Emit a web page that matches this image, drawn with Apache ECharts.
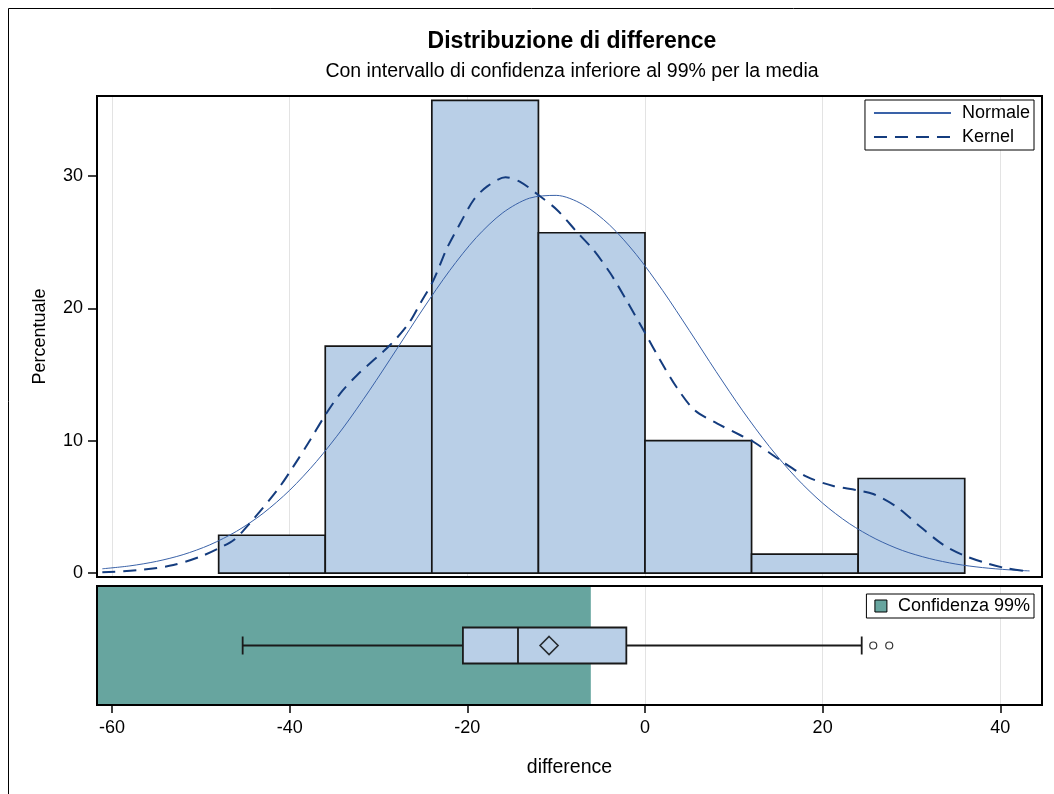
<!DOCTYPE html>
<html><head><meta charset="utf-8">
<script src="https://cdn.jsdelivr.net/npm/echarts@6/dist/echarts.min.js"></script>
<style>html,body{margin:0;padding:0;background:#fff}#c{width:1054px;height:794px}</style>
</head><body><div id="c"></div>
<script>
// ---------- data ----------
const binStarts = [-48, -36, -24, -12, 0, 12, 24];
const binEnds   = [-36, -24, -12, 0, 12, 24, 36];
const binPercent = [2.857, 17.143, 35.714, 25.714, 10.0, 1.429, 7.143];

const normalX = [-61.1,-58,-55,-52,-49,-46,-43,-40,-37,-34,-31,-28,-25,-22,-19,-16,-13,-10,-7,-4,-1,2,5,8,11,14,17,20,23,26,29,32,35,38,41,43.3];
const normalY = [0.32,0.54,0.88,1.39,2.13,3.15,4.51,6.26,8.42,10.96,13.82,16.87,19.95,22.85,25.35,27.23,28.33,28.54,27.85,26.31,24.08,21.34,18.32,15.23,12.26,9.56,7.22,5.28,3.74,2.57,1.70,1.10,0.68,0.41,0.24,0.16];

const kernelX = [-61.1,-56.8,-53.1,-50.1,-48.0,-46.3,-44.5,-41.4,-39.6,-37.7,-36.0,-34.3,-32.4,-28.7,-26.6,-25.3,-23.8,-22.3,-20.8,-19.3,-17.8,-15.7,-14.1,-12.0,-9.9,-7.7,-5.8,-3.9,-2.1,0,1.7,3.6,5.6,8.1,10.7,12.2,15.2,18.2,21.2,23.8,25.7,28.3,31.0,33.6,35.8,38.5,40.7,43.3];
const kernelY = [0.05,0.23,0.60,1.23,1.87,2.49,3.76,6.27,8.04,10.05,11.94,13.58,14.97,17.23,18.87,20.38,22.15,24.54,26.43,28.19,29.20,29.91,29.58,28.57,27.44,25.80,24.41,22.65,20.63,18.15,16.10,14.00,12.30,11.31,10.43,9.92,8.54,7.28,6.58,6.27,5.97,5.01,3.50,2.12,1.36,0.73,0.36,0.10];

// box plot: [lower whisker, Q1, median, Q3, upper whisker]
const boxValues = [-45.3, -20.5, -14.3, -2.1, 24.4];
const meanValue = [-10.8];
const outliers = [25.7, 27.5];
const confidenceUpper = [-6.1];

const xTicks = [-60, -40, -20, 0, 20, 40];
const yTicks = [0, 10, 20, 30];
const xRange = [-61.7, 44.7];
const yRange = [-0.3, 36.05];

// ---------- layout / style ----------
const FONT = '"Liberation Sans", Arial, sans-serif';
const L = 97, R = 1042, T1 = 96, B1 = 577, T2 = 586, B2 = 705;
const barFill = '#B9CFE7';
const teal = '#67A59F';

const chart = echarts.init(document.getElementById('c'), null, {renderer: 'canvas'});

const xAxisCommon = {
  type: 'value', min: xRange[0], max: xRange[1],
  axisLine: {show: false, onZero: false},
  splitLine: {show: true, lineStyle: {color: '#e3e3e3', width: 1}},
};

const option = {
  backgroundColor: '#fff',
  animation: false,
  textStyle: {fontFamily: FONT},
  grid: [
    {left: L, top: T1, width: R - L, height: B1 - T1, show: false},
    {left: L, top: T2, width: R - L, height: B2 - T2, show: false}
  ],
  xAxis: [
    Object.assign({}, xAxisCommon, {
      gridIndex: 0,
      axisTick: {show: false, customValues: xTicks},
      axisLabel: {show: false, customValues: xTicks}
    }),
    Object.assign({}, xAxisCommon, {
      gridIndex: 1,
      name: 'difference', nameLocation: 'middle', nameGap: 53,
      nameTextStyle: {fontSize: 19.5, color: '#000', fontFamily: FONT},
      axisTick: {show: true, length: 8, customValues: xTicks, lineStyle: {color: '#000', width: 1.5}},
      axisLabel: {show: true, customValues: xTicks, margin: 14, fontSize: 18, color: '#000', fontFamily: FONT}
    })
  ],
  yAxis: [
    {
      type: 'value', gridIndex: 0, min: yRange[0], max: yRange[1],
      name: 'Percentuale', nameLocation: 'middle', nameGap: 48, nameRotate: 90,
      nameTextStyle: {fontSize: 18, color: '#000', fontFamily: FONT},
      axisLine: {show: false, onZero: false},
      splitLine: {show: false},
      axisTick: {show: true, length: 9, customValues: yTicks, lineStyle: {color: '#000', width: 1.5}},
      axisLabel: {show: true, customValues: yTicks, margin: 14, fontSize: 18, color: '#000', fontFamily: FONT}
    },
    {
      type: 'value', gridIndex: 1, min: 0, max: 1,
      axisLine: {show: false, onZero: false}, axisTick: {show: false}, axisLabel: {show: false}, splitLine: {show: false}
    }
  ],
  legend: [
    {
      data: ['Normale', 'Kernel'], orient: 'vertical', right: 20, top: 100,
      itemWidth: 77, itemHeight: 8, itemGap: 6,
      borderColor: '#000', borderWidth: 1, borderRadius: 0, backgroundColor: '#fff',
      padding: [4, 4, 4, 8],
      itemStyle: {color: 'rgba(0,0,0,0)', borderColor: 'rgba(0,0,0,0)', borderWidth: 0, opacity: 0},
      textStyle: {fontSize: 18, color: '#000', fontFamily: FONT, padding: [0, 0, 0, 6], lineHeight: 18}
    },
    {
      data: [{name: 'Confidenza 99%', icon: 'rect'}], right: 20, top: 594,
      itemWidth: 12, itemHeight: 12,
      borderColor: '#000', borderWidth: 1, borderRadius: 0, backgroundColor: '#fff',
      padding: [3, 4, 3, 8],
      itemStyle: {borderColor: '#000', borderWidth: 1},
      textStyle: {fontSize: 18, color: '#000', fontFamily: FONT, padding: [0, 0, 0, 6], lineHeight: 18}
    }
  ],
  graphic: [
    {type: 'text', x: 572, y: 42, z: 10, style: {text: 'Distribuzione di difference', fontSize: 23, fontWeight: 'bold', fontFamily: FONT, fill: '#000', textAlign: 'center', textVerticalAlign: 'middle'}},
    {type: 'text', x: 572, y: 72, z: 10, style: {text: 'Con intervallo di confidenza inferiore al 99% per la media', fontSize: 19.5, fontFamily: FONT, fill: '#000', textAlign: 'center', textVerticalAlign: 'middle'}},
    {type: 'rect', z: 20, shape: {x: L, y: T1, width: R - L, height: B1 - T1}, style: {fill: 'none', stroke: '#000', lineWidth: 2}},
    {type: 'rect', z: 20, shape: {x: L, y: T2, width: R - L, height: B2 - T2}, style: {fill: 'none', stroke: '#000', lineWidth: 2}},
    {type: 'rect', z: 20, shape: {x: 8.5, y: 8.5, width: 1100, height: 900}, style: {fill: 'none', stroke: '#000', lineWidth: 1}}
  ],
  series: [
    {
      type: 'custom', name: 'Istogramma', xAxisIndex: 0, yAxisIndex: 0, z: 2,
      data: binStarts.map((s, i) => [s, binEnds[i], binPercent[i]]),
      renderItem: function (params, api) {
        const p0 = api.coord([api.value(0), api.value(2)]);
        const p1 = api.coord([api.value(1), 0]);
        return {type: 'rect', shape: {x: p0[0], y: p0[1], width: p1[0] - p0[0], height: p1[1] - p0[1]},
          style: {fill: barFill, stroke: '#151515', lineWidth: 1.7}};
      }
    },
    {
      type: 'line', name: 'Normale', xAxisIndex: 0, yAxisIndex: 0, z: 4,
      data: normalX.map((x, i) => [x, normalY[i]]),
      symbol: 'none', smooth: 0.3,
      itemStyle: {color: '#3A62A8'},
      lineStyle: {color: '#3A62A8', width: 1}
    },
    {
      type: 'line', name: 'Kernel', xAxisIndex: 0, yAxisIndex: 0, z: 5,
      data: kernelX.map((x, i) => [x, kernelY[i]]),
      symbol: 'none', smooth: 0.3,
      itemStyle: {color: '#143C7E'},
      lineStyle: {color: '#143C7E', width: 2, type: [13, 8]}
    },
    {
      type: 'custom', name: 'Confidenza 99%', xAxisIndex: 1, yAxisIndex: 1, z: 1,
      itemStyle: {color: teal},
      data: [[xRange[0], confidenceUpper[0]]],
      renderItem: function (params, api) {
        const p0 = api.coord([api.value(0), 1]);
        const p1 = api.coord([api.value(1), 0]);
        return {type: 'rect', shape: {x: p0[0], y: p0[1], width: p1[0] - p0[0], height: p1[1] - p0[1]},
          style: {fill: teal}};
      }
    },
    {
      type: 'custom', name: 'Box', xAxisIndex: 1, yAxisIndex: 1, z: 3,
      data: [boxValues],
      renderItem: function (params, api) {
        const cy = api.coord([0, 0.5])[1];
        const x = [0, 1, 2, 3, 4].map(k => api.coord([api.value(k), 0.5])[0]);
        const hb = 18, hc = 9;
        const ls = {stroke: '#1a1a1a', lineWidth: 1.8};
        return {type: 'group', children: [
          {type: 'line', shape: {x1: x[0], y1: cy, x2: x[1], y2: cy}, style: ls},
          {type: 'line', shape: {x1: x[3], y1: cy, x2: x[4], y2: cy}, style: ls},
          {type: 'line', shape: {x1: x[0], y1: cy - hc, x2: x[0], y2: cy + hc}, style: ls},
          {type: 'line', shape: {x1: x[4], y1: cy - hc, x2: x[4], y2: cy + hc}, style: ls},
          {type: 'rect', shape: {x: x[1], y: cy - hb, width: x[3] - x[1], height: 2 * hb}, style: {fill: barFill, stroke: '#1a1a1a', lineWidth: 1.8}},
          {type: 'line', shape: {x1: x[2], y1: cy - hb, x2: x[2], y2: cy + hb}, style: ls}
        ]};
      }
    },
    {
      type: 'scatter', name: 'Media', xAxisIndex: 1, yAxisIndex: 1, z: 4,
      data: meanValue.map(v => [v, 0.5]),
      symbol: 'diamond', symbolSize: [18, 18],
      itemStyle: {color: 'rgba(0,0,0,0)', borderColor: '#000', borderWidth: 1.6}
    },
    {
      type: 'scatter', name: 'Outlier', xAxisIndex: 1, yAxisIndex: 1, z: 4,
      data: outliers.map(v => [v, 0.5]),
      symbol: 'circle', symbolSize: 7,
      itemStyle: {color: '#fff', borderColor: '#000', borderWidth: 1.2}
    }
  ]
};
chart.setOption(option);
</script>
</body></html>
